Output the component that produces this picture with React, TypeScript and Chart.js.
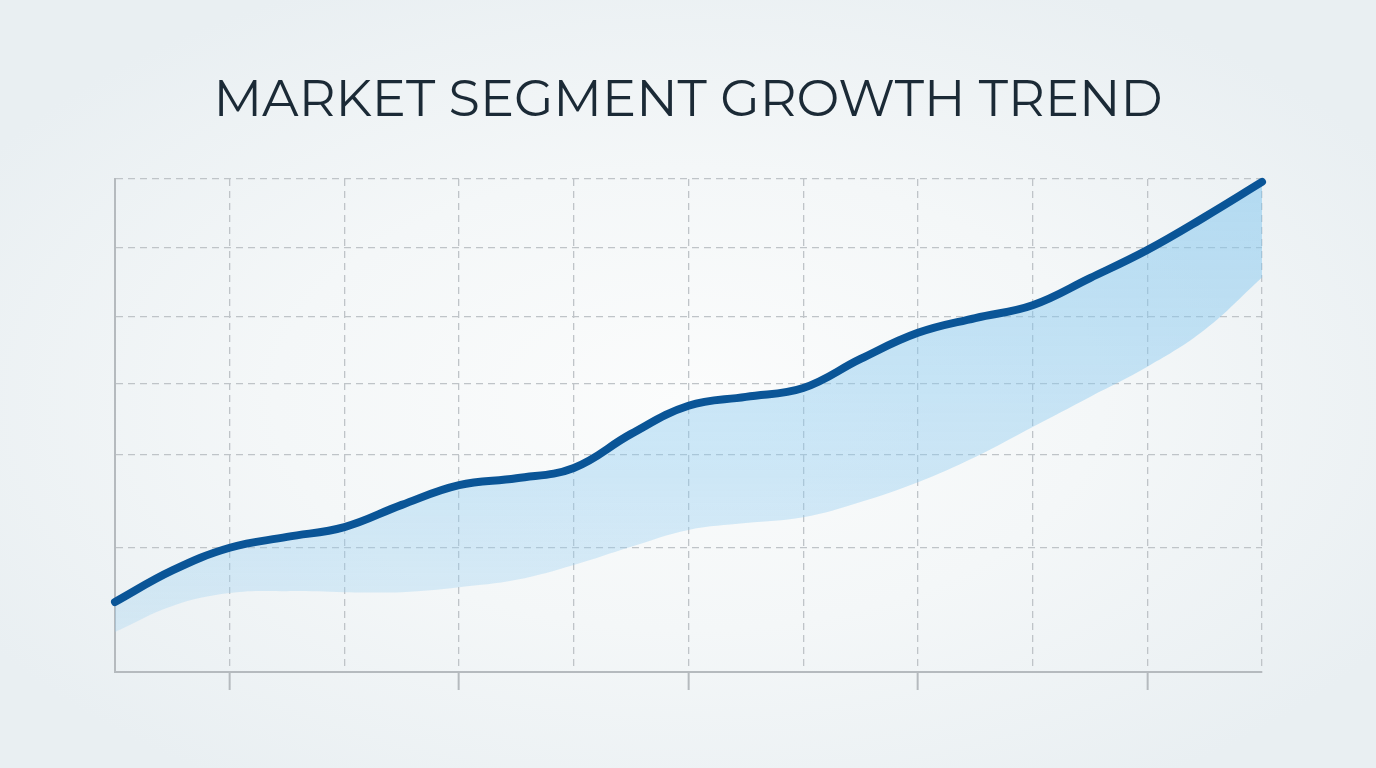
import { useEffect, useRef } from "react";
import { Chart, registerables } from "chart.js";

Chart.register(...registerables);

const TITLE = "MARKET SEGMENT GROWTH TREND";

// x positions (half-steps between the vertical grid lines)
const xPositions = [0, 0.5, 1, 1.5, 2, 2.5, 3, 3.5, 4, 4.5, 5, 5.5, 6, 6.5, 7, 7.5, 8, 8.5, 9, 9.5, 10];
// main trend line
const trendValues = [14.2, 20.6, 25.2, 27.4, 29.4, 33.9, 37.9, 39.3, 41.4, 48.3, 54.0, 55.8, 57.6, 63.5, 68.8, 71.8, 74.4, 79.9, 85.6, 92.3, 99.4];
// lower edge of the shaded band
const lowerBandValues = [8.1, 13.4, 16.0, 16.4, 16.2, 16.2, 17.2, 18.7, 21.7, 25.4, 28.8, 30.2, 31.4, 34.5, 38.5, 43.6, 49.7, 55.8, 61.9, 69.4, 80.0];
// horizontal grid lines (no labels shown)
const yGridValues = [0, 25.2, 44.0, 58.4, 72.0, 86.0, 100];
// bottom tick marks below the axis
const xTickMarks = [1, 3, 5, 7, 9];

const GRID = "#bfc4c8";
const AXIS = "#b5babe";
const LINE = "#0a5597";

export default function App() {
  const canvasRef = useRef<HTMLCanvasElement>(null);
  const chartRef = useRef<Chart | null>(null);

  useEffect(() => {
    if (!canvasRef.current) return;
    const ctx = canvasRef.current.getContext("2d");
    if (!ctx) return;

    chartRef.current = new Chart(ctx, {
      type: "line",
      data: {
        datasets: [
          {
            data: xPositions.map((x, i) => ({ x, y: trendValues[i] })),
            borderColor: LINE,
            borderWidth: 8,
            borderCapStyle: "round",
            borderJoinStyle: "round",
            pointRadius: 0,
            tension: 0.4,
            fill: "+1",
            clip: false,
            backgroundColor: (c: any) => {
              const area = c.chart.chartArea;
              if (!area) return "rgba(130,196,236,0.45)";
              const g = c.chart.ctx.createLinearGradient(0, area.top, 0, area.bottom);
              g.addColorStop(0, "rgba(125,196,238,0.52)");
              g.addColorStop(0.6, "rgba(140,202,240,0.4)");
              g.addColorStop(1, "rgba(160,210,242,0.28)");
              return g;
            },
          },
          {
            data: xPositions.map((x, i) => ({ x, y: lowerBandValues[i] })),
            borderWidth: 0,
            borderColor: "rgba(0,0,0,0)",
            pointRadius: 0,
            tension: 0.4,
            fill: false,
          },
        ],
      },
      options: {
        animation: false,
        responsive: true,
        maintainAspectRatio: false,
        layout: { padding: { left: 115, right: 114, top: 179, bottom: 78 } },
        plugins: {
          legend: { display: false },
          tooltip: { enabled: false },
          title: { display: false },
        },
        scales: {
          x: {
            type: "linear",
            min: 0,
            max: 10,
            ticks: { display: false, stepSize: 1 },
            grid: {
              color: GRID,
              lineWidth: 1.3,
              drawTicks: true,
              tickLength: 18,
              tickWidth: 2,
              tickColor: (c: any) =>
                xTickMarks.includes(c.tick?.value) ? AXIS : "rgba(0,0,0,0)",
            },
            border: { display: true, color: AXIS, width: 2, dash: [7, 5] },
          },
          y: {
            type: "linear",
            min: 0,
            max: 100,
            afterBuildTicks: (scale: any) => {
              scale.ticks = yGridValues.map((v) => ({ value: v }));
            },
            ticks: { display: false },
            grid: { color: GRID, lineWidth: 1.3, drawTicks: false },
            border: { display: true, color: AXIS, width: 2, dash: [7, 5] },
          },
        },
      },
    });

    return () => {
      chartRef.current?.destroy();
      chartRef.current = null;
    };
  }, []);

  return (
    <div
      style={{
        position: "fixed",
        inset: 0,
        width: 1376,
        height: 768,
        background:
          "radial-gradient(ellipse 60% 60% at 50% 52%, #fbfcfc 0%, #f4f7f8 50%, #e9eff2 100%)",
        overflow: "hidden",
      }}
    >
      <div
        style={{
          position: "absolute",
          top: 66,
          left: 0,
          width: 1376,
          height: 64,
          lineHeight: "64px",
          textAlign: "center",
          fontFamily: "Montserrat, Inter, 'Open Sans', sans-serif",
          fontWeight: 400,
          fontSize: 51,
          letterSpacing: 0,
          color: "#1b2a36",
          whiteSpace: "nowrap",
        }}
      >
        {TITLE}
      </div>
      <div style={{ position: "absolute", left: 0, top: 0, width: 1376, height: 768 }}>
        <canvas ref={canvasRef} />
      </div>
    </div>
  );
}
